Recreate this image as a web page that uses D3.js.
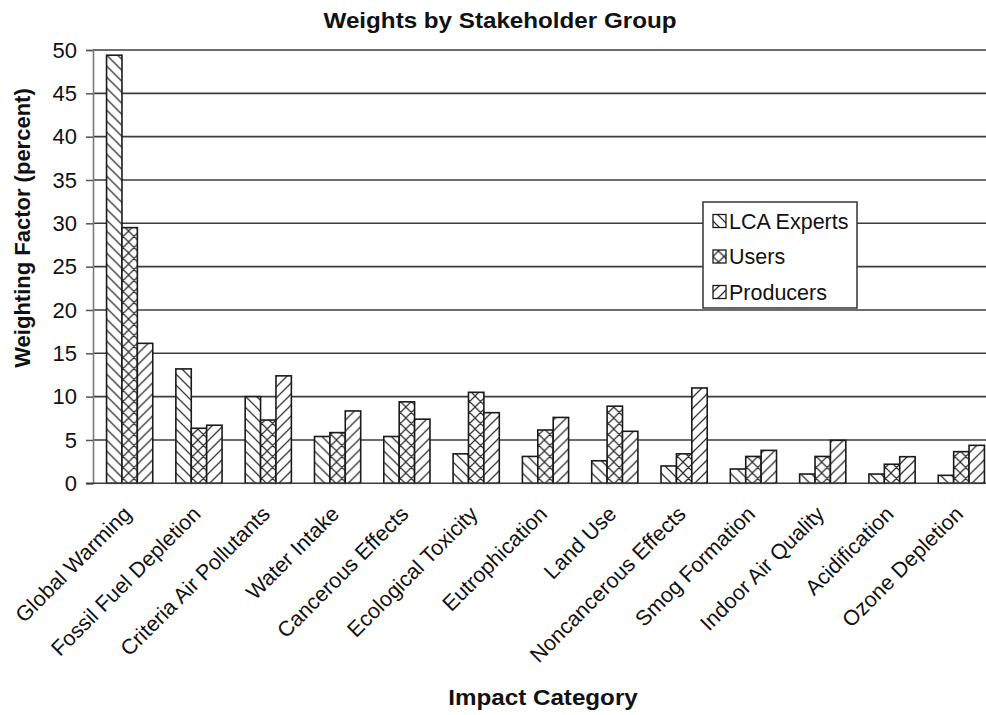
<!DOCTYPE html>
<html>
<head>
<meta charset="utf-8">
<script src="https://cdn.jsdelivr.net/npm/d3@7"></script>
<style>
  html, body { margin: 0; padding: 0; background: #fff; }
  svg { display: block; font-family: "Liberation Sans", Arial, sans-serif; }
</style>
</head>
<body>
<div id="chart"></div>
<script>
const categories = ["Global Warming", "Fossil Fuel Depletion", "Criteria Air Pollutants", "Water Intake",
  "Cancerous Effects", "Ecological Toxicity", "Eutrophication", "Land Use", "Noncancerous Effects",
  "Smog Formation", "Indoor Air Quality", "Acidification", "Ozone Depletion"];
const seriesNames = ["LCA Experts", "Users", "Producers"];
const lcaExperts = [49.4, 13.2, 10.0, 5.4, 5.4, 3.4, 3.1, 2.6, 2.0, 1.65, 1.07, 1.07, 0.92];
const users      = [29.5, 6.35, 7.3, 5.85, 9.4, 10.5, 6.15, 8.9, 3.4, 3.1, 3.1, 2.2, 3.65];
const producers  = [16.15, 6.7, 12.4, 8.35, 7.4, 8.15, 7.6, 6.0, 11.0, 3.8, 4.96, 3.07, 4.38];
const yTicks = [0, 5, 10, 15, 20, 25, 30, 35, 40, 45, 50];

const W = 986, H = 715;
const margin = { left: 93, top: 50, bottom: 483.3 };
const bandStart = 95, bandEnd = 996;

const svg = d3.select("#chart").append("svg").attr("width", W).attr("height", H);
svg.append("rect").attr("width", W).attr("height", H).attr("fill", "#fff");

const defs = svg.append("defs");
const P = 11;
function pattern(id, d) {
  const p = defs.append("pattern").attr("id", id).attr("patternUnits", "userSpaceOnUse")
    .attr("width", P).attr("height", P);
  p.append("rect").attr("width", P).attr("height", P).attr("fill", "#fff");
  p.append("path").attr("d", d).attr("stroke", "#333").attr("stroke-width", 1.25).attr("fill", "none");
}
const back = `M0,0L${P},${P}M${-P/2},${P/2}L${P/2},${P*1.5}M${P/2},${-P/2}L${P*1.5},${P/2}`;
const fwd = `M0,${P}L${P},0M${-P/2},${P/2}L${P/2},${-P/2}M${P/2},${P*1.5}L${P*1.5},${P/2}`;
pattern("pLCA", back);
pattern("pUsers", back + fwd);
pattern("pProd", fwd);
const fills = ["url(#pLCA)", "url(#pUsers)", "url(#pProd)"];

const x = d3.scaleBand().domain(categories).range([bandStart, bandEnd]).padding(0);
const barW = 15.4;
const xs = d3.scaleBand().domain(seriesNames).range([0, barW * 3]);
const groupOff = (x.bandwidth() - barW * 3) / 2;
const y = d3.scaleLinear().domain([0, 50]).range([margin.bottom, margin.top]);

// gridlines
svg.append("g").selectAll("line").data(yTicks.filter(t => t > 0)).join("line")
  .attr("x1", margin.left).attr("x2", W)
  .attr("y1", d => y(d)).attr("y2", d => y(d))
  .attr("stroke", "#3c3c3c").attr("stroke-width", 1.6);

// y axis
const yAxis = d3.axisLeft(y).tickValues(yTicks).tickSize(7).tickPadding(9);
const gy = svg.append("g").attr("transform", `translate(${margin.left},0)`).call(yAxis);
gy.select(".domain").attr("stroke", "#7a7a7a").attr("stroke-width", 1.6);
gy.selectAll(".tick line").attr("stroke", "#555").attr("stroke-width", 1.5);
gy.selectAll(".tick text").attr("font-size", 22).attr("fill", "#111")
  .attr("font-family", "Liberation Sans, Arial, sans-serif");

// bars
const data = [lcaExperts, users, producers];
const groups = svg.append("g").selectAll("g").data(categories).join("g")
  .attr("transform", d => `translate(${x(d) + groupOff},0)`);
groups.selectAll("rect").data((d, i) => seriesNames.map((s, j) => ({ s, j, v: data[j][i] }))).join("rect")
  .attr("x", d => xs(d.s)).attr("width", xs.bandwidth())
  .attr("y", d => y(d.v)).attr("height", d => y(0) - y(d.v))
  .attr("fill", d => fills[d.j]).attr("stroke", "#1a1a1a").attr("stroke-width", 1.6);

// x axis baseline
svg.append("line").attr("x1", margin.left - 7).attr("x2", W)
  .attr("y1", y(0)).attr("y2", y(0)).attr("stroke", "#3c3c3c").attr("stroke-width", 1.6);

// category labels
const xAxis = d3.axisBottom(x).tickSize(0).tickPadding(0);
const gx = svg.append("g").attr("transform", `translate(0,${y(0)})`).call(xAxis);
gx.select(".domain").remove();
gx.selectAll(".tick text")
  .attr("font-size", 21.5).attr("fill", "#111").attr("font-family", "Liberation Sans, Arial, sans-serif")
  .attr("text-anchor", "end").attr("y", 0).attr("dy", 0)
  .attr("transform", "translate(3,32) rotate(-45)");

// titles
svg.append("text").attr("transform", "translate(500,28) scale(1.1,1)")
  .attr("text-anchor", "middle").attr("font-weight", "bold").attr("font-size", 22).attr("fill", "#111")
  .text("Weights by Stakeholder Group");
svg.append("text").attr("transform", "translate(543,705) scale(1.1,1)")
  .attr("text-anchor", "middle").attr("font-weight", "bold").attr("font-size", 22).attr("fill", "#111")
  .text("Impact Category");
svg.append("text").attr("transform", "translate(30,228) rotate(-90)")
  .attr("text-anchor", "middle").attr("font-weight", "bold").attr("font-size", 22).attr("fill", "#111")
  .text("Weighting Factor (percent)");

// legend
const leg = svg.append("g").attr("transform", "translate(703,202)");
leg.append("rect").attr("width", 154).attr("height", 106).attr("fill", "#fff")
  .attr("stroke", "#333").attr("stroke-width", 1.5);
const items = leg.selectAll("g").data(seriesNames).join("g")
  .attr("transform", (d, i) => `translate(10,${19 + i * 35.5})`);
items.append("rect").attr("x", 0).attr("y", -6.5).attr("width", 13).attr("height", 13)
  .attr("fill", (d, i) => fills[i]).attr("stroke", "#1a1a1a").attr("stroke-width", 1.3);
items.append("text").attr("x", 16).attr("dy", "0.36em").attr("font-size", 21.5).attr("fill", "#111")
  .text(d => d);
</script>
</body>
</html>
